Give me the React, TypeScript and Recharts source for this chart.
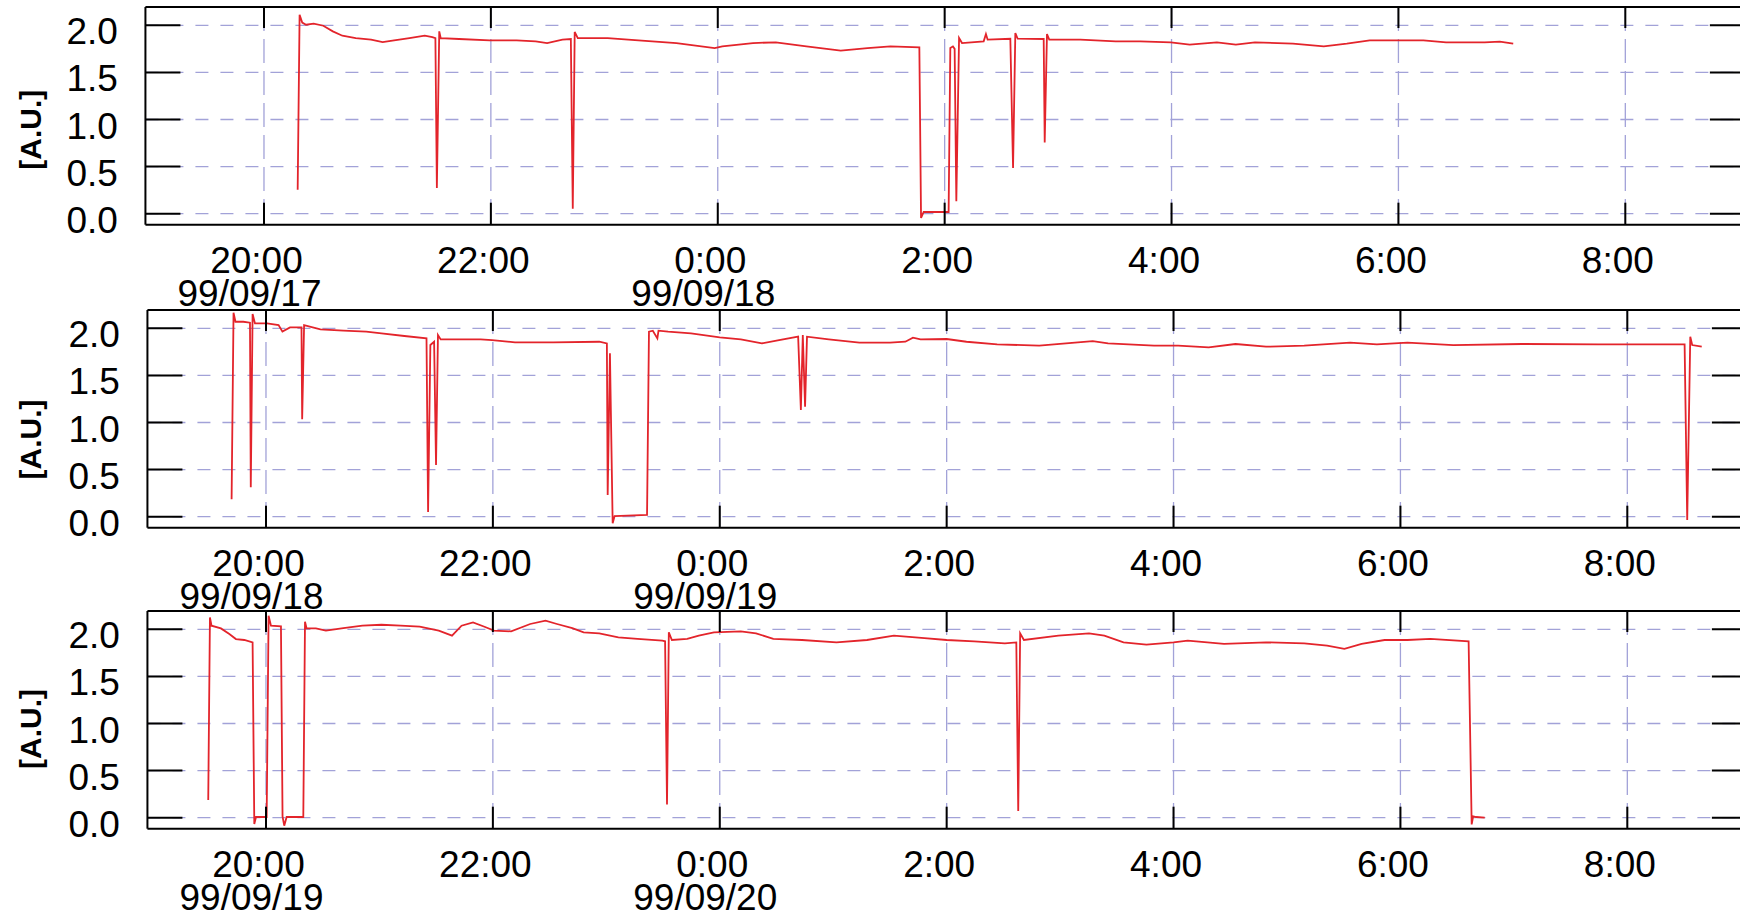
import React from 'react';
import { LineChart, Line, XAxis, YAxis, CartesianGrid, ReferenceLine } from 'recharts';

// hours counted from midnight of the first day (24 = 0:00 next day)
const hourTicks = [20, 22, 24, 26, 28, 30, 32];
const hourLabels = ['20:00', '22:00', '0:00', '2:00', '4:00', '6:00', '8:00'];
const valueTicks = [0, 0.5, 1.0, 1.5, 2.0];

const panel1Dates = ['99/09/17', '99/09/18'];
const panel2Dates = ['99/09/18', '99/09/19'];
const panel3Dates = ['99/09/19', '99/09/20'];

const panel1Hours = [
  20.297, 20.314, 20.337, 20.371, 20.438, 20.523, 20.607, 20.691, 20.809, 20.944,
  21.046, 21.147, 21.282, 21.417, 21.484, 21.511, 21.524, 21.545, 21.558, 21.72,
  21.99, 22.226, 22.395, 22.496, 22.631, 22.705, 22.722, 22.739, 22.766, 23.03,
  23.3, 23.636, 23.973, 24.04, 24.31, 24.512, 24.781, 25.084, 25.32, 25.522,
  25.777, 25.792, 25.815, 26.035, 26.05, 26.073, 26.088, 26.103, 26.127, 26.153,
  26.344, 26.364, 26.379, 26.579, 26.603, 26.623, 26.644, 26.873, 26.882, 26.902,
  26.922, 27.196, 27.508, 27.723, 27.993, 28.16, 28.4, 28.567, 28.735, 29.07,
  29.342, 29.545, 29.747, 30.003, 30.22, 30.42, 30.76, 30.894, 31.012,
];
const panel1Values = [
  0.255, 2.113, 2.03, 2.007, 2.018, 1.996, 1.936, 1.89, 1.865, 1.848,
  1.823, 1.84, 1.865, 1.89, 1.876, 1.865, 0.273, 1.936, 1.865, 1.855,
  1.84, 1.84, 1.83, 1.812, 1.848, 1.855, 0.053, 1.93, 1.865, 1.865,
  1.84, 1.812, 1.759, 1.777, 1.812, 1.82, 1.777, 1.731, 1.759, 1.777,
  1.766, -0.046, 0.018, 0.018, 1.76, 1.777, 1.75, 0.131, 1.865, 1.812,
  1.83, 1.908, 1.848, 1.858, 0.485, 1.918, 1.858, 1.855, 0.757, 1.908,
  1.848, 1.848, 1.83, 1.83, 1.82, 1.795, 1.82, 1.795, 1.82, 1.805,
  1.777, 1.805, 1.84, 1.84, 1.84, 1.82, 1.82, 1.827, 1.805,
];

const panel2Hours = [
  19.697, 19.714, 19.731, 19.8, 19.859, 19.866, 19.882, 19.903, 20.01, 20.111,
  20.145, 20.212, 20.313, 20.319, 20.336, 20.48, 20.682, 20.884, 21.018, 21.22,
  21.415, 21.429, 21.449, 21.482, 21.499, 21.516, 21.54, 21.892, 21.993, 22.195,
  22.531, 22.938, 23.005, 23.012, 23.032, 23.056, 23.073, 23.359, 23.376, 23.41,
  23.45, 23.46, 23.545, 23.747, 24.0, 24.186, 24.371, 24.523, 24.691, 24.715,
  24.732, 24.752, 24.769, 24.961, 25.231, 25.501, 25.636, 25.703, 25.77, 26.0,
  26.175, 26.445, 26.816, 27.052, 27.288, 27.423, 27.828, 28.04, 28.31, 28.546,
  28.815, 29.152, 29.557, 29.792, 30.062, 30.466, 31.073, 31.746, 32.505, 32.528,
  32.555, 32.572, 32.656,
];
const panel2Values = [
  0.184, 2.166, 2.07, 2.07, 2.06, 0.312, 2.152, 2.053, 2.053, 2.035,
  1.965, 2.01, 2.01, 1.034, 2.035, 1.99, 1.975, 1.965, 1.947, 1.919,
  1.894, 0.05, 1.823, 1.858, 0.549, 1.929, 1.883, 1.883, 1.876, 1.851,
  1.851, 1.858, 1.84, 0.23, 1.735, -0.071, 0.007, 0.018, 1.965, 1.975,
  1.894, 1.975, 1.965, 1.947, 1.904, 1.883, 1.84, 1.876, 1.912, 1.133,
  1.929, 1.168, 1.912, 1.883, 1.848, 1.848, 1.858, 1.901, 1.883, 1.887,
  1.858, 1.83, 1.816, 1.84, 1.865, 1.84, 1.816, 1.816, 1.798, 1.834,
  1.805, 1.816, 1.848, 1.83, 1.848, 1.823, 1.834, 1.83, 1.83, -0.035,
  1.912, 1.823, 1.805,
];

const panel3Hours = [
  19.491, 19.506, 19.52, 19.603, 19.677, 19.735, 19.809, 19.882, 19.897, 19.912,
  20.006, 20.023, 20.044, 20.132, 20.146, 20.161, 20.182, 20.329, 20.344, 20.358,
  20.44, 20.528, 20.682, 20.85, 21.018, 21.187, 21.355, 21.523, 21.64, 21.724,
  21.825, 21.926, 22.01, 22.161, 22.329, 22.464, 22.565, 22.7, 22.8, 22.938,
  23.106, 23.275, 23.494, 23.518, 23.535, 23.551, 23.578, 23.713, 23.815, 23.949,
  24.185, 24.32, 24.472, 24.725, 25.029, 25.298, 25.535, 25.804, 26.0, 26.243,
  26.513, 26.614, 26.631, 26.648, 26.681, 26.985, 27.255, 27.39, 27.559, 27.761,
  28.0, 28.125, 28.445, 28.815, 29.152, 29.354, 29.506, 29.658, 29.86, 30.062,
  30.264, 30.601, 30.628, 30.641, 30.668, 30.743,
];
const panel3Values = [
  0.188, 2.127, 2.039, 2.01, 1.95, 1.897, 1.887, 1.862, -0.067, 0.007,
  0.007, 2.145, 2.039, 2.032, 0.014, -0.085, 0.007, 0.007, 2.081, 2.01,
  2.01, 1.986, 2.014, 2.039, 2.049, 2.039, 2.028, 1.986, 1.933, 2.039,
  2.074, 2.028, 1.986, 1.979, 2.057, 2.092, 2.057, 2.014, 1.968, 1.958,
  1.915, 1.898, 1.88, 1.873, 0.141, 1.968, 1.887, 1.898, 1.933, 1.968,
  1.979, 1.958, 1.898, 1.887, 1.862, 1.887, 1.933, 1.908, 1.887, 1.873,
  1.852, 1.862, 0.071, 1.958, 1.887, 1.933, 1.958, 1.933, 1.862, 1.837,
  1.862, 1.88, 1.845, 1.862, 1.852, 1.827, 1.792, 1.845, 1.887, 1.887,
  1.898, 1.873, -0.071, 0.014, 0.007, 0.0,
];

const FONT = '"Liberation Sans", Arial, Helvetica, sans-serif';
const X_DOMAIN = [18.955, 33.045];
const Y_DOMAIN = [-0.117, 2.195];
const PLOT_W = 1598.5;
const PLOT_H = 217.7;
const M_TOP = 10;
const M_LEFT = 45.4;
const Y_AXIS_W = 100;
const X_AXIS_H = 90;
const CHART_W = 1760;
const CHART_H = M_TOP + PLOT_H + X_AXIS_H;
const GRID_COLOR = '#a2a2d8';
const LINE_COLOR = '#e3242b';

const XTick = (props: any) => {
  const { x, y, payload, dates } = props;
  const i = hourTicks.indexOf(payload.value);
  const date = payload.value === 20 ? dates[0] : payload.value === 24 ? dates[1] : null;
  return (
    <g>
      <line x1={x} x2={x} y1={y - PLOT_H} y2={y - PLOT_H + 21} stroke="#000" strokeWidth={2} />
      <line x1={x} x2={x} y1={y} y2={y - 22} stroke="#000" strokeWidth={2} />
      <text x={x - 7.5} y={y + 48} textAnchor="middle" fontSize={37} fontFamily={FONT} fill="#000">
        {hourLabels[i]}
      </text>
      {date && (
        <text x={x - 14.5} y={y + 81} textAnchor="middle" fontSize={37} fontFamily={FONT} fill="#000">
          {date}
        </text>
      )}
    </g>
  );
};

const YTick = (props: any) => {
  const { x, y, payload } = props;
  return (
    <g>
      <line x1={x} x2={x + 35} y1={y} y2={y} stroke="#000" strokeWidth={2} />
      <line x1={x + PLOT_W - 34} x2={x + PLOT_W} y1={y} y2={y} stroke="#000" strokeWidth={2} />
      <text x={x - 27.5} y={y + 19} textAnchor="end" fontSize={37} fontFamily={FONT} fill="#000">
        {Number(payload.value).toFixed(1)}
      </text>
    </g>
  );
};

const AxisTitle = (props: any) => {
  const { posX, posY } = props;
  return (
    <text
      x={posX}
      y={posY}
      transform={`rotate(-90, ${posX}, ${posY})`}
      textAnchor="middle"
      dominantBaseline="central"
      fontSize={30}
      fontWeight="bold"
      fontFamily={FONT}
      fill="#000"
    >
      [A.U.]
    </text>
  );
};

const Panel = ({ hours, values, dates, left, top, titleX, titleY }: any) => {
  const data = hours.map((h: number, i: number) => ({ t: h, v: values[i] }));
  return (
    <div style={{ position: 'absolute', left, top }}>
      <LineChart
        width={CHART_W}
        height={CHART_H}
        data={data}
        margin={{ top: M_TOP, left: M_LEFT, right: CHART_W - M_LEFT - Y_AXIS_W - PLOT_W, bottom: 0 }}
      >
        <CartesianGrid
          horizontal
          vertical={false}
          horizontalValues={valueTicks}
          stroke={GRID_COLOR}
          strokeWidth={1.3}
          strokeDasharray="13 12"
        />
        <CartesianGrid
          horizontal={false}
          vertical
          verticalValues={hourTicks}
          stroke={GRID_COLOR}
          strokeWidth={1.3}
          strokeDasharray="24 8"
        />
        <XAxis
          dataKey="t"
          type="number"
          domain={X_DOMAIN}
          ticks={hourTicks}
          interval={0}
          height={X_AXIS_H}
          tickSize={0}
          tickMargin={0}
          tickLine={false}
          axisLine={{ stroke: '#000', strokeWidth: 2 }}
          tick={<XTick dates={dates} />}
        />
        <YAxis
          type="number"
          domain={Y_DOMAIN}
          ticks={valueTicks}
          interval={0}
          width={Y_AXIS_W}
          tickSize={0}
          tickMargin={0}
          tickLine={false}
          axisLine={{ stroke: '#000', strokeWidth: 2 }}
          tick={<YTick />}
          label={<AxisTitle posX={titleX} posY={titleY} />}
        />
        <ReferenceLine y={Y_DOMAIN[1]} stroke="#000" strokeWidth={2} ifOverflow="visible" />
        <Line
          dataKey="v"
          type="linear"
          stroke={LINE_COLOR}
          strokeWidth={1.8}
          dot={false}
          activeDot={false}
          isAnimationActive={false}
        />
      </LineChart>
    </div>
  );
};

export default function App() {
  return (
    <div
      style={{
        position: 'absolute',
        left: 0,
        top: 0,
        width: 1740,
        height: 912,
        overflow: 'hidden',
        background: '#fff',
      }}
    >
      <Panel hours={panel1Hours} values={panel1Values} dates={panel1Dates} left={0} top={-2.7} titleX={30.7} titleY={132.7} />
      <Panel hours={panel2Hours} values={panel2Values} dates={panel2Dates} left={2.3} top={300} titleX={28.2} titleY={139.5} />
      <Panel hours={panel3Hours} values={panel3Values} dates={panel3Dates} left={2.3} top={601} titleX={28.2} titleY={128} />
    </div>
  );
}
